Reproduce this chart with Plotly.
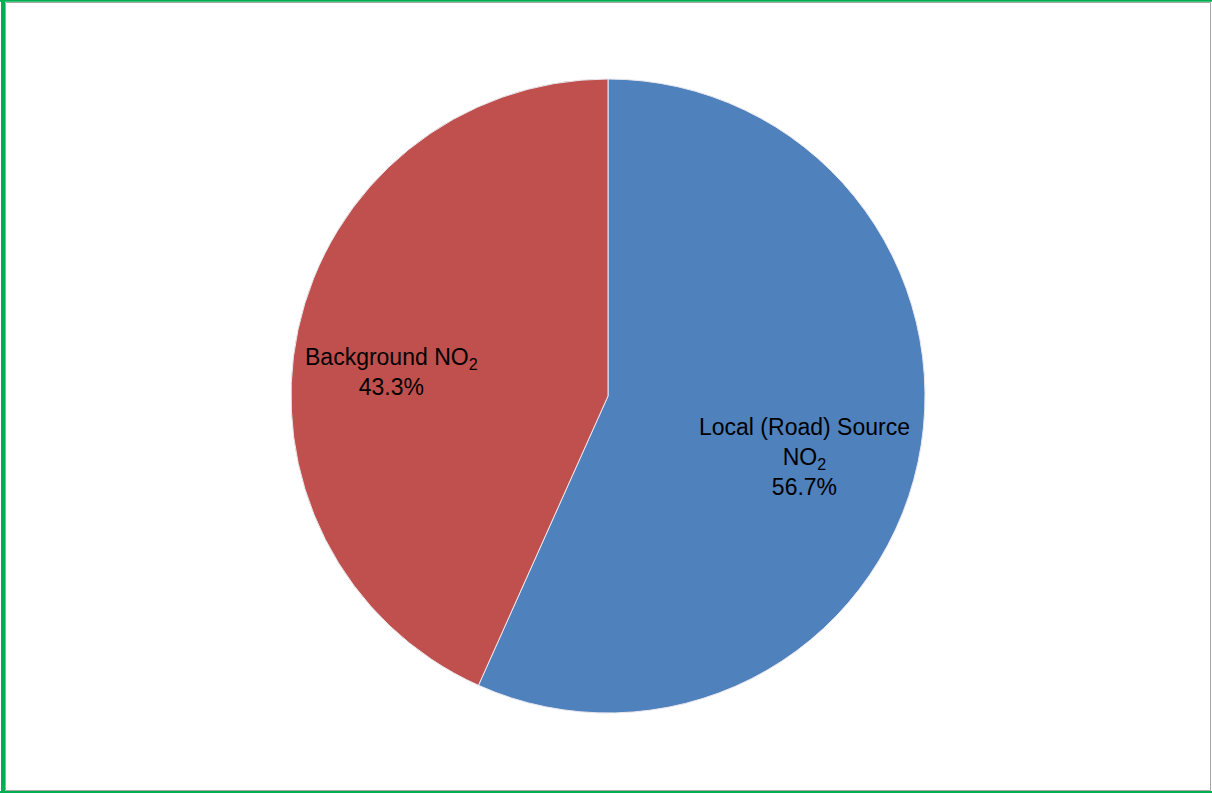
import plotly.graph_objects as go

# Share of NO2 by source
labels = ["Local (Road) Source<br>NO<sub>2</sub>", "Background NO<sub>2</sub>"]
values = [56.7, 43.3]
colors = ["#4F81BD", "#C0504D"]

W, H = 1212, 793


def px_x(x):
    return x / W


def px_y(y):
    return 1 - y / H


fig = go.Figure(
    go.Pie(
        labels=labels,
        values=values,
        sort=False,
        direction="clockwise",
        rotation=0,
        marker=dict(colors=colors, line=dict(color="#E8E8F0", width=1)),
        textinfo="none",
        hoverinfo="label+percent",
        showlegend=False,
        domain=dict(x=[px_x(291), px_x(925)], y=[px_y(713), px_y(79)]),
    )
)

# Data labels placed inside each slice
label_pos = [(804, 457), (392, 372)]
annotations = [
    dict(
        x=px_x(cx), y=px_y(cy), xref="paper", yref="paper",
        text=f"{lab}<br>{val:.1f}%", showarrow=False,
        xanchor="center", yanchor="middle", align="center",
        font=dict(family="Liberation Sans, Arial, sans-serif", size=23, color="#000000"),
    )
    for lab, val, (cx, cy) in zip(labels, values, label_pos)
]

shapes = [
    # green frame
    dict(type="rect", xref="paper", yref="paper", x0=px_x(1), x1=px_x(5), y0=0, y1=1,
         fillcolor="#00B050", line=dict(width=0), layer="above"),
    dict(type="rect", xref="paper", yref="paper", x0=0, x1=1, y0=px_y(0), y1=px_y(1.8),
         fillcolor="#00B050", line=dict(width=0), layer="above"),
    dict(type="rect", xref="paper", yref="paper", x0=0, x1=1, y0=px_y(791), y1=px_y(793),
         fillcolor="#00B050", line=dict(width=0), layer="above"),
    # grey chart-area border
    dict(type="rect", xref="paper", yref="paper", x0=px_x(5.5), x1=px_x(1210.5),
         y0=px_y(790.5), y1=px_y(2.5), line=dict(color="#A6A6A6", width=1), layer="above"),
]

fig.update_layout(
    width=W,
    height=H,
    margin=dict(l=0, r=0, t=0, b=0),
    paper_bgcolor="#FFFFFF",
    plot_bgcolor="#FFFFFF",
    shapes=shapes,
    annotations=annotations,
)

fig.write_html("out.html")
